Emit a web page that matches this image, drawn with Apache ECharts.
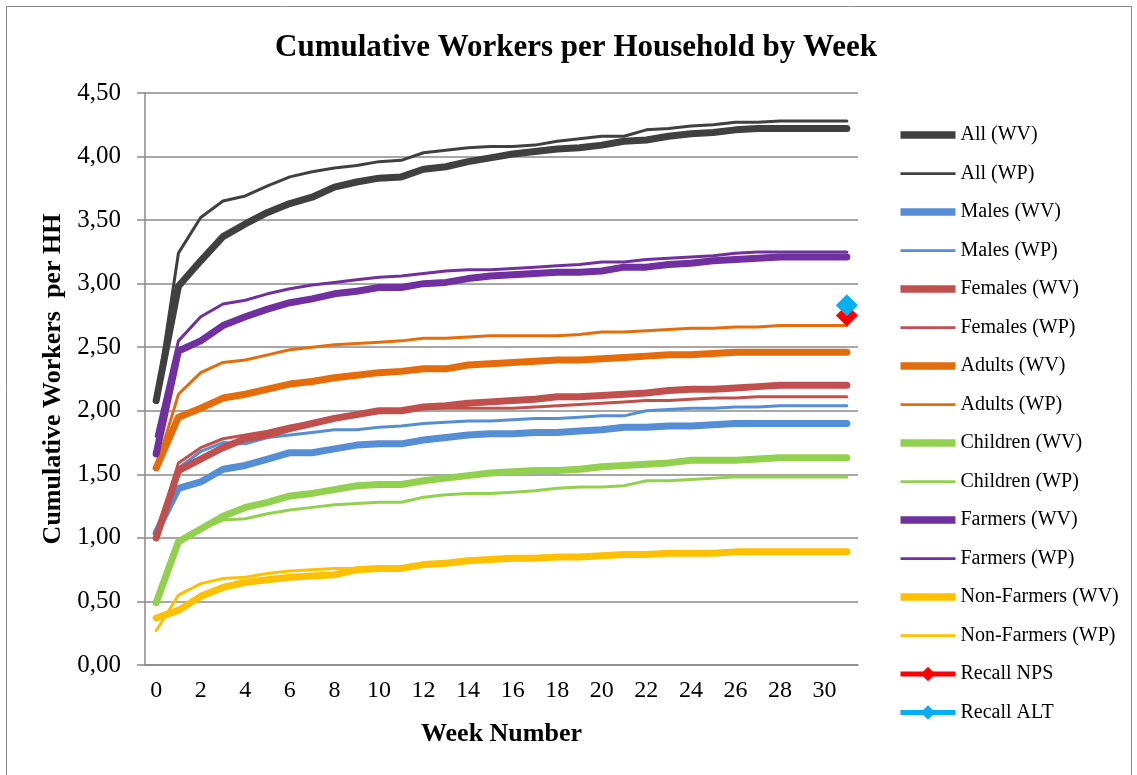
<!DOCTYPE html>
<html>
<head>
<meta charset="utf-8">
<title>Cumulative Workers per Household by Week</title>
<script src="https://cdn.jsdelivr.net/npm/echarts@6/dist/echarts.min.js"></script>
<style>
  html, body { margin: 0; padding: 0; background: #fff; }
  #chart { width: 1137px; height: 775px; }
</style>
</head>
<body>
<div id="chart"></div>
<script>
// week numbers 0..31
var weeks = [];
for (var w = 0; w <= 31; w++) { weeks.push(String(w)); }

var allWV = [2.08, 2.98, 3.18, 3.37, 3.47, 3.56, 3.63, 3.68, 3.76, 3.80, 3.83, 3.84, 3.90, 3.92, 3.96, 3.99,
             4.02, 4.04, 4.06, 4.07, 4.09, 4.12, 4.13, 4.16, 4.18, 4.19, 4.21, 4.22, 4.22, 4.22, 4.22, 4.22];
var allWP = [2.08, 3.24, 3.52, 3.65, 3.69, 3.77, 3.84, 3.88, 3.91, 3.93, 3.96, 3.97, 4.03, 4.05, 4.07, 4.08,
             4.08, 4.09, 4.12, 4.14, 4.16, 4.16, 4.21, 4.22, 4.24, 4.25, 4.27, 4.27, 4.28, 4.28, 4.28, 4.28];
var malesWV = [1.04, 1.39, 1.44, 1.54, 1.57, 1.62, 1.67, 1.67, 1.70, 1.73, 1.74, 1.74, 1.77, 1.79, 1.81, 1.82,
               1.82, 1.83, 1.83, 1.84, 1.85, 1.87, 1.87, 1.88, 1.88, 1.89, 1.90, 1.90, 1.90, 1.90, 1.90, 1.90];
var malesWP = [1.05, 1.55, 1.68, 1.75, 1.74, 1.79, 1.81, 1.83, 1.85, 1.85, 1.87, 1.88, 1.90, 1.91, 1.92, 1.92,
               1.93, 1.94, 1.94, 1.95, 1.96, 1.96, 2.00, 2.01, 2.02, 2.02, 2.03, 2.03, 2.04, 2.04, 2.04, 2.04];
var femalesWV = [1.00, 1.53, 1.62, 1.71, 1.78, 1.81, 1.86, 1.90, 1.94, 1.97, 2.00, 2.00, 2.03, 2.04, 2.06, 2.07,
                 2.08, 2.09, 2.11, 2.11, 2.12, 2.13, 2.14, 2.16, 2.17, 2.17, 2.18, 2.19, 2.20, 2.20, 2.20, 2.20];
var femalesWP = [1.00, 1.59, 1.71, 1.78, 1.81, 1.84, 1.88, 1.91, 1.94, 1.97, 1.99, 2.01, 2.02, 2.02, 2.02, 2.02,
                 2.02, 2.03, 2.04, 2.05, 2.06, 2.07, 2.08, 2.08, 2.09, 2.10, 2.10, 2.11, 2.11, 2.11, 2.11, 2.11];
var adultsWV = [1.55, 1.95, 2.02, 2.10, 2.13, 2.17, 2.21, 2.23, 2.26, 2.28, 2.30, 2.31, 2.33, 2.33, 2.36, 2.37,
                2.38, 2.39, 2.40, 2.40, 2.41, 2.42, 2.43, 2.44, 2.44, 2.45, 2.46, 2.46, 2.46, 2.46, 2.46, 2.46];
var adultsWP = [1.55, 2.13, 2.30, 2.38, 2.40, 2.44, 2.48, 2.50, 2.52, 2.53, 2.54, 2.55, 2.57, 2.57, 2.58, 2.59,
                2.59, 2.59, 2.59, 2.60, 2.62, 2.62, 2.63, 2.64, 2.65, 2.65, 2.66, 2.66, 2.67, 2.67, 2.67, 2.67];
var childrenWV = [0.49, 0.97, 1.07, 1.17, 1.24, 1.28, 1.33, 1.35, 1.38, 1.41, 1.42, 1.42, 1.45, 1.47, 1.49, 1.51,
                  1.52, 1.53, 1.53, 1.54, 1.56, 1.57, 1.58, 1.59, 1.61, 1.61, 1.61, 1.62, 1.63, 1.63, 1.63, 1.63];
var childrenWP = [0.49, 0.97, 1.07, 1.14, 1.15, 1.19, 1.22, 1.24, 1.26, 1.27, 1.28, 1.28, 1.32, 1.34, 1.35, 1.35,
                  1.36, 1.37, 1.39, 1.40, 1.40, 1.41, 1.45, 1.45, 1.46, 1.47, 1.48, 1.48, 1.48, 1.48, 1.48, 1.48];
var farmersWV = [1.66, 2.47, 2.55, 2.67, 2.74, 2.80, 2.85, 2.88, 2.92, 2.94, 2.97, 2.97, 3.00, 3.01, 3.04, 3.06,
                 3.07, 3.08, 3.09, 3.09, 3.10, 3.13, 3.13, 3.15, 3.16, 3.18, 3.19, 3.20, 3.21, 3.21, 3.21, 3.21];
var farmersWP = [1.80, 2.55, 2.74, 2.84, 2.87, 2.92, 2.96, 2.99, 3.01, 3.03, 3.05, 3.06, 3.08, 3.10, 3.11, 3.11,
                 3.12, 3.13, 3.14, 3.15, 3.17, 3.17, 3.19, 3.20, 3.21, 3.22, 3.24, 3.25, 3.25, 3.25, 3.25, 3.25];
var nonFarmersWV = [0.37, 0.43, 0.54, 0.61, 0.65, 0.67, 0.69, 0.70, 0.71, 0.75, 0.76, 0.76, 0.79, 0.80, 0.82, 0.83,
                    0.84, 0.84, 0.85, 0.85, 0.86, 0.87, 0.87, 0.88, 0.88, 0.88, 0.89, 0.89, 0.89, 0.89, 0.89, 0.89];
var nonFarmersWP = [0.27, 0.55, 0.64, 0.68, 0.69, 0.72, 0.74, 0.75, 0.76, 0.76, 0.77, 0.77, 0.79, 0.80, 0.82, 0.83,
                    0.84, 0.84, 0.85, 0.85, 0.86, 0.87, 0.87, 0.88, 0.88, 0.88, 0.89, 0.89, 0.89, 0.89, 0.89, 0.89];
// recall values only exist at the last week
var recallWeek = '31';
var recallNPS = 2.75;
var recallALT = 2.83;

var serif = "'Liberation Serif', 'Times New Roman', serif";
var gridColor = '#8a8a8a';

var chart = echarts.init(document.getElementById('chart'));

function lineSeries(name, data, color, width) {
    return {
        name: name,
        type: 'line',
        data: data,
        symbol: 'none',
        color: color,
        lineStyle: { color: color, width: width, cap: 'round', join: 'round' },
        emphasis: { disabled: true },
        silent: true
    };
}

function pointSeries(name, value, color) {
    var data = weeks.map(function (wk) { return wk === recallWeek ? value : '-'; });
    return {
        name: name,
        type: 'line',
        data: data,
        symbol: 'diamond',
        symbolSize: 22,
        showAllSymbol: true,
        color: color,
        itemStyle: { color: color },
        lineStyle: { color: color, width: 5 },
        emphasis: { disabled: true },
        silent: true
    };
}

var thickIcon = 'path://M0,0H60V8H0Z';
var thinIcon = 'path://M0,0H60V3H0Z';

var names = ['All (WV)', 'All (WP)', 'Males (WV)', 'Males (WP)', 'Females (WV)', 'Females (WP)',
             'Adults (WV)', 'Adults (WP)', 'Children (WV)', 'Children (WP)', 'Farmers (WV)', 'Farmers (WP)',
             'Non-Farmers (WV)', 'Non-Farmers (WP)'];
var legendData = names.map(function (n, i) {
    return { name: n, icon: i % 2 === 0 ? thickIcon : thinIcon };
});
legendData.push({ name: 'Recall NPS', lineStyle: { width: 5 } });
legendData.push({ name: 'Recall ALT', lineStyle: { width: 5 } });

var option = {
    animation: false,
    backgroundColor: '#fff',
    textStyle: { fontFamily: serif },
    title: {
        text: 'Cumulative Workers per Household by Week',
        left: 270,
        top: 27,
        textStyle: { fontFamily: serif, fontSize: 31, fontWeight: 'bold', color: '#000' }
    },
    graphic: [{
        type: 'rect',
        shape: { x: 6.5, y: 6.5, width: 1125, height: 790 },
        style: { fill: 'none', stroke: gridColor, lineWidth: 1 },
        silent: true
    }],
    legend: {
        orient: 'vertical',
        left: 893,
        top: 120,
        itemWidth: 55,
        itemHeight: 18,
        itemGap: 18.5,
        selectedMode: false,
        textStyle: { fontFamily: serif, fontSize: 20, color: '#000' },
        data: legendData
    },
    grid: { left: 145, right: 279, top: 93, bottom: 110 },
    xAxis: {
        type: 'category',
        data: weeks,
        boundaryGap: true,
        name: 'Week Number',
        nameLocation: 'middle',
        nameGap: 56,
        nameTextStyle: { fontFamily: serif, fontSize: 26, fontWeight: 'bold', color: '#000' },
        axisLine: { lineStyle: { color: gridColor, width: 1.5 } },
        axisTick: { interval: 0, length: 8, lineStyle: { color: gridColor, width: 1.5 } },
        axisLabel: { interval: 1, margin: 14, fontFamily: serif, fontSize: 24, color: '#000' },
        splitLine: { show: false }
    },
    yAxis: {
        type: 'value',
        min: 0,
        max: 4.5,
        interval: 0.5,
        name: 'Cumulative Workers  per HH',
        nameLocation: 'middle',
        nameGap: 77,
        nameTextStyle: { fontFamily: serif, fontSize: 26, fontWeight: 'bold', color: '#000' },
        axisLine: { show: true, lineStyle: { color: gridColor, width: 1.5 } },
        axisTick: { show: true, length: 8, lineStyle: { color: gridColor, width: 1.5 } },
        axisLabel: {
            margin: 24, fontFamily: serif, fontSize: 25, color: '#000',
            formatter: function (v) { return v.toFixed(2).replace('.', ','); }
        },
        splitLine: { lineStyle: { color: gridColor, width: 1.5 } }
    },
    series: [
        lineSeries('All (WV)', allWV, '#404040', 7),
        lineSeries('All (WP)', allWP, '#404040', 3),
        lineSeries('Males (WV)', malesWV, '#558ed5', 7),
        lineSeries('Males (WP)', malesWP, '#558ed5', 3),
        lineSeries('Females (WV)', femalesWV, '#c0504d', 7),
        lineSeries('Females (WP)', femalesWP, '#c0504d', 3),
        lineSeries('Adults (WV)', adultsWV, '#e46c0a', 7),
        lineSeries('Adults (WP)', adultsWP, '#e46c0a', 3),
        lineSeries('Children (WV)', childrenWV, '#92d050', 7),
        lineSeries('Children (WP)', childrenWP, '#92d050', 3),
        lineSeries('Farmers (WV)', farmersWV, '#7030a0', 7),
        lineSeries('Farmers (WP)', farmersWP, '#7030a0', 3),
        lineSeries('Non-Farmers (WV)', nonFarmersWV, '#ffc000', 7),
        lineSeries('Non-Farmers (WP)', nonFarmersWP, '#ffc000', 3),
        pointSeries('Recall NPS', recallNPS, '#ff0000'),
        pointSeries('Recall ALT', recallALT, '#00b0f0')
    ]
};

chart.setOption(option);
</script>
</body>
</html>
